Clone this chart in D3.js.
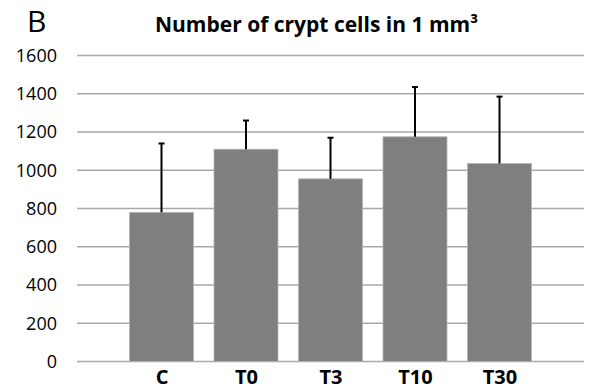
<!DOCTYPE html>
<html>
<head>
<meta charset="utf-8">
<script src="https://cdn.jsdelivr.net/npm/d3@7"></script>
<style>
  body { margin: 0; background: #fff; }
  text { font-family: "Open Sans", sans-serif; }
</style>
</head>
<body>
<div id="main"></div>
<script>
// chart data
const categories = ['C', 'T0', 'T3', 'T10', 'T30'];
const meanValues = [780, 1110, 955, 1175, 1035];
const sdValues = [360, 150, 215, 260, 350];
const yTicks = [0, 200, 400, 600, 800, 1000, 1200, 1400, 1600];

const svgWidth = 593;
const svgHeight = 390;
const margin = { top: 55.5, right: 9, bottom: 28.5, left: 77 };

const svg = d3.select('#main')
    .append('svg')
    .attr('width', svgWidth)
    .attr('height', svgHeight);

const xScale = d3.scalePoint()
    .domain(categories)
    .range([margin.left, svgWidth - margin.right])
    .padding(1);

const yScale = d3.scaleLinear()
    .domain([0, 1600])
    .range([svgHeight - margin.bottom, margin.top]);

const barWidth = 64;

// gridlines
svg.append('g')
    .selectAll('line')
    .data(yTicks)
    .enter()
    .append('line')
    .attr('x1', margin.left)
    .attr('x2', svgWidth - margin.right)
    .attr('y1', d => yScale(d))
    .attr('y2', d => yScale(d))
    .attr('stroke', '#a9a9a9')
    .attr('stroke-width', 1.5);

// y axis labels
const yAxis = svg.append('g')
    .attr('transform', `translate(${margin.left - 20}, 0)`)
    .call(d3.axisLeft(yScale).tickValues(yTicks).tickFormat(d3.format('d')).tickSize(0).tickPadding(0));
yAxis.select('.domain').remove();
yAxis.selectAll('text')
    .attr('font-family', '"Open Sans", sans-serif')
    .attr('font-size', 18)
    .attr('fill', '#000');

// bars
svg.append('g')
    .selectAll('rect')
    .data(categories)
    .enter()
    .append('rect')
    .attr('x', d => xScale(d) - barWidth / 2)
    .attr('y', (d, i) => yScale(meanValues[i]))
    .attr('width', barWidth)
    .attr('height', (d, i) => yScale(0) - yScale(meanValues[i]))
    .attr('fill', '#7f7f7f')
    .attr('stroke', '#b5b5b5')
    .attr('stroke-width', 0.8);

// error bars (upper only)
const errG = svg.append('g');
errG.selectAll('line.err')
    .data(categories)
    .enter()
    .append('line')
    .attr('class', 'err')
    .attr('x1', d => xScale(d))
    .attr('x2', d => xScale(d))
    .attr('y1', (d, i) => yScale(meanValues[i]))
    .attr('y2', (d, i) => yScale(meanValues[i] + sdValues[i]))
    .attr('stroke', '#000')
    .attr('stroke-width', 2);
errG.selectAll('line.cap')
    .data(categories)
    .enter()
    .append('line')
    .attr('class', 'cap')
    .attr('x1', d => xScale(d) - 3)
    .attr('x2', d => xScale(d) + 3)
    .attr('y1', (d, i) => yScale(meanValues[i] + sdValues[i]))
    .attr('y2', (d, i) => yScale(meanValues[i] + sdValues[i]))
    .attr('stroke', '#000')
    .attr('stroke-width', 2);

// x axis labels
const xAxis = svg.append('g')
    .attr('transform', `translate(0, ${yScale(0) + 8})`)
    .call(d3.axisBottom(xScale).tickSize(0).tickPadding(0));
xAxis.select('.domain').remove();
xAxis.selectAll('text')
    .attr('font-family', '"Open Sans", sans-serif')
    .attr('font-size', 20)
    .attr('font-weight', 'bold')
    .attr('fill', '#000');

// title and panel letter
svg.append('text')
    .attr('x', 155)
    .attr('y', 32)
    .attr('font-size', 21)
    .attr('font-weight', 'bold')
    .attr('fill', '#000')
    .text('Number of crypt cells in 1 mm³');

svg.append('text')
    .attr('x', 27)
    .attr('y', 32)
    .attr('font-size', 30)
    .attr('fill', '#000')
    .text('B');
</script>
</body>
</html>
